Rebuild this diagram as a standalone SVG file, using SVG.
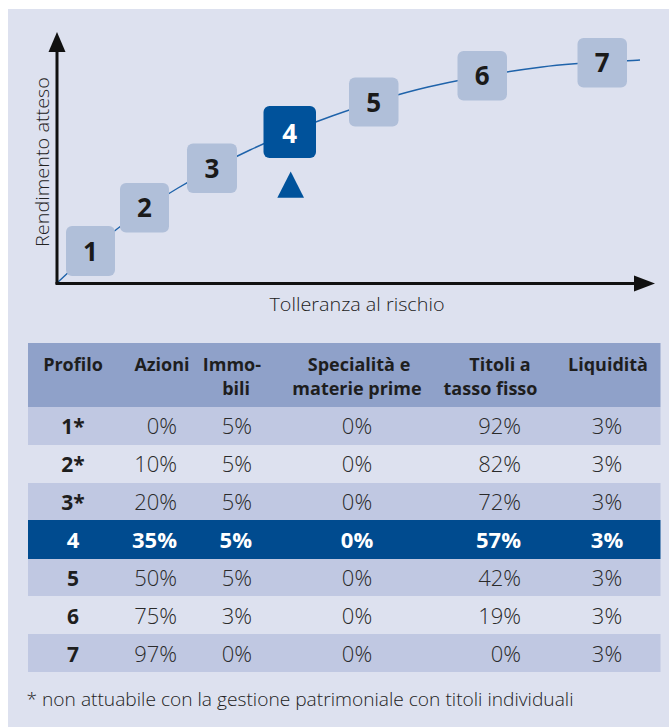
<svg xmlns="http://www.w3.org/2000/svg" width="669" height="727" viewBox="0 0 669 727">
<defs>
<style>
.box{fill:#b0bfd9}
.sel{fill:#00529b}
.num{font-family:"Open Sans","Noto Sans",sans-serif;font-weight:700;font-size:26px;fill:#1a1a1a;text-anchor:middle}
.lbl{font-family:"Open Sans","Noto Sans",sans-serif;font-weight:300;font-size:19px;fill:#222}
.hd{font-family:"Open Sans","Noto Sans",sans-serif;font-weight:700;font-size:18px;fill:#1e1e1e}
.cell{font-family:"Open Sans","Noto Sans",sans-serif;font-weight:300;font-size:22px;fill:#2a2a2a}
.pb{font-family:"Open Sans","Noto Sans",sans-serif;font-weight:700;font-size:21px;fill:#1e1e1e;text-anchor:middle}
.wb{font-family:"Open Sans","Noto Sans",sans-serif;font-weight:700;font-size:22px;fill:#ffffff}
.m{text-anchor:middle}
.e{text-anchor:end}
.rowA{fill:#c0c8e2}
</style>
</defs>
<rect x="0" y="0" width="669" height="727" fill="#ffffff"/>
<rect x="8" y="9" width="661" height="718" fill="#dde1ef"/>

<g id="connectors">
<path d="M57,283 C67,274 96.8,244.8 117,229 C137.2,213.2 155.8,201.2 178,188 C200.2,174.8 224.3,162 250,150 C275.7,138 302.3,126.5 332,116 C361.7,105.5 393,95.2 428,87 C463,78.8 506.7,71.5 542,67 C577.3,62.5 623.7,61.2 640,60" fill="none" stroke="#1f63aa" stroke-width="1.4"/>
</g>

<g id="axes">
<line x1="57" y1="284" x2="57" y2="50" stroke="#111" stroke-width="3"/>
<polygon points="57,32 48.5,52 65.5,52" fill="#111"/>
<line x1="55.5" y1="283.5" x2="636" y2="283.5" stroke="#111" stroke-width="3"/>
<polygon points="655,283.5 634,275.5 634,291.5" fill="#111"/>
<text class="lbl" transform="translate(48.5,247) rotate(-90)" font-size="21" textLength="170" lengthAdjust="spacingAndGlyphs">Rendimento atteso</text>
<text class="lbl" x="269.5" y="310.5" font-size="20" textLength="175" lengthAdjust="spacingAndGlyphs">Tolleranza al rischio</text>
</g>

<g id="node1"><rect class="box" x="66" y="226" width="49" height="50" rx="6"/><text class="num" x="90.5" y="260.5">1</text></g>
<g id="node2"><rect class="box" x="120" y="183" width="49" height="49.5" rx="6"/><text class="num" x="144.5" y="217">2</text></g>
<g id="node3"><rect class="box" x="187" y="143.5" width="50" height="49.5" rx="6"/><text class="num" x="212" y="177.5">3</text></g>
<g id="node4"><rect class="sel" x="263.5" y="106" width="52.5" height="52" rx="6"/><text class="num" x="289.7" y="142.5" font-size="29" style="fill:#ffffff">4</text></g>
<g id="marker4"><polygon points="290.7,171.5 277.3,197.7 304,197.7" fill="#00529b"/></g>
<g id="node5"><rect class="box" x="349" y="77.5" width="49.5" height="49" rx="6"/><text class="num" x="373.7" y="111.5">5</text></g>
<g id="node6"><rect class="box" x="457.5" y="51" width="49.5" height="49.5" rx="6"/><text class="num" x="482.2" y="85">6</text></g>
<g id="node7"><rect class="box" x="577.5" y="38" width="49.5" height="49.5" rx="6"/><text class="num" x="602.2" y="72">7</text></g>

<g id="table">
<rect x="28" y="343" width="632.5" height="64" fill="#8fa1c9"/>
<rect class="rowA" x="28" y="407" width="632.5" height="38"/>
<rect class="rowA" x="28" y="483" width="632.5" height="37"/>
<rect x="28" y="520" width="632.5" height="39" fill="#004b8f"/>
<rect class="rowA" x="28" y="559" width="632.5" height="37"/>
<rect class="rowA" x="28" y="634" width="632.5" height="38"/>

<text class="hd m" x="73" y="370.5">Profilo</text>
<text class="hd m" x="162" y="370.5">Azioni</text>
<text class="hd e" x="261" y="370.5">Immo-<tspan x="250" dy="24.5">bili</tspan></text>
<text class="hd m" x="359" y="370.5">Specialità e<tspan x="357" dy="24.5">materie prime</tspan></text>
<text class="hd m" x="500" y="370.5">Titoli a<tspan x="490.5" dy="24.5">tasso fisso</tspan></text>
<text class="hd m" x="608" y="370.5">Liquidità</text>

<g id="row1">
<text class="pb" x="73" y="434">1*</text>
<text class="cell e" x="177" y="434">0%</text>
<text class="cell e" x="252" y="434">5%</text>
<text class="cell m" x="357" y="434">0%</text>
<text class="cell e" x="521" y="434">92%</text>
<text class="cell m" x="607" y="434">3%</text>
</g>
<g id="row2">
<text class="pb" x="73" y="472">2*</text>
<text class="cell e" x="177" y="472">10%</text>
<text class="cell e" x="252" y="472">5%</text>
<text class="cell m" x="357" y="472">0%</text>
<text class="cell e" x="521" y="472">82%</text>
<text class="cell m" x="607" y="472">3%</text>
</g>
<g id="row3">
<text class="pb" x="73" y="510">3*</text>
<text class="cell e" x="177" y="510">20%</text>
<text class="cell e" x="252" y="510">5%</text>
<text class="cell m" x="357" y="510">0%</text>
<text class="cell e" x="521" y="510">72%</text>
<text class="cell m" x="607" y="510">3%</text>
</g>
<g id="row4">
<text class="wb m" x="73" y="548">4</text>
<text class="wb e" x="177" y="548">35%</text>
<text class="wb e" x="252" y="548">5%</text>
<text class="wb m" x="357" y="548">0%</text>
<text class="wb e" x="521" y="548">57%</text>
<text class="wb m" x="607" y="548">3%</text>
</g>
<g id="row5">
<text class="pb" x="73" y="586">5</text>
<text class="cell e" x="177" y="586">50%</text>
<text class="cell e" x="252" y="586">5%</text>
<text class="cell m" x="357" y="586">0%</text>
<text class="cell e" x="521" y="586">42%</text>
<text class="cell m" x="607" y="586">3%</text>
</g>
<g id="row6">
<text class="pb" x="73" y="623.5">6</text>
<text class="cell e" x="177" y="623.5">75%</text>
<text class="cell e" x="252" y="623.5">3%</text>
<text class="cell m" x="357" y="623.5">0%</text>
<text class="cell e" x="521" y="623.5">19%</text>
<text class="cell m" x="607" y="623.5">3%</text>
</g>
<g id="row7">
<text class="pb" x="73" y="661.5">7</text>
<text class="cell e" x="177" y="661.5">97%</text>
<text class="cell e" x="252" y="661.5">0%</text>
<text class="cell m" x="357" y="661.5">0%</text>
<text class="cell e" x="521" y="661.5">0%</text>
<text class="cell m" x="607" y="661.5">3%</text>
</g>
</g>

<text class="lbl" x="26.5" y="705.5" font-size="18" textLength="547" lengthAdjust="spacingAndGlyphs">* non attuabile con la gestione patrimoniale con titoli individuali</text>
</svg>
